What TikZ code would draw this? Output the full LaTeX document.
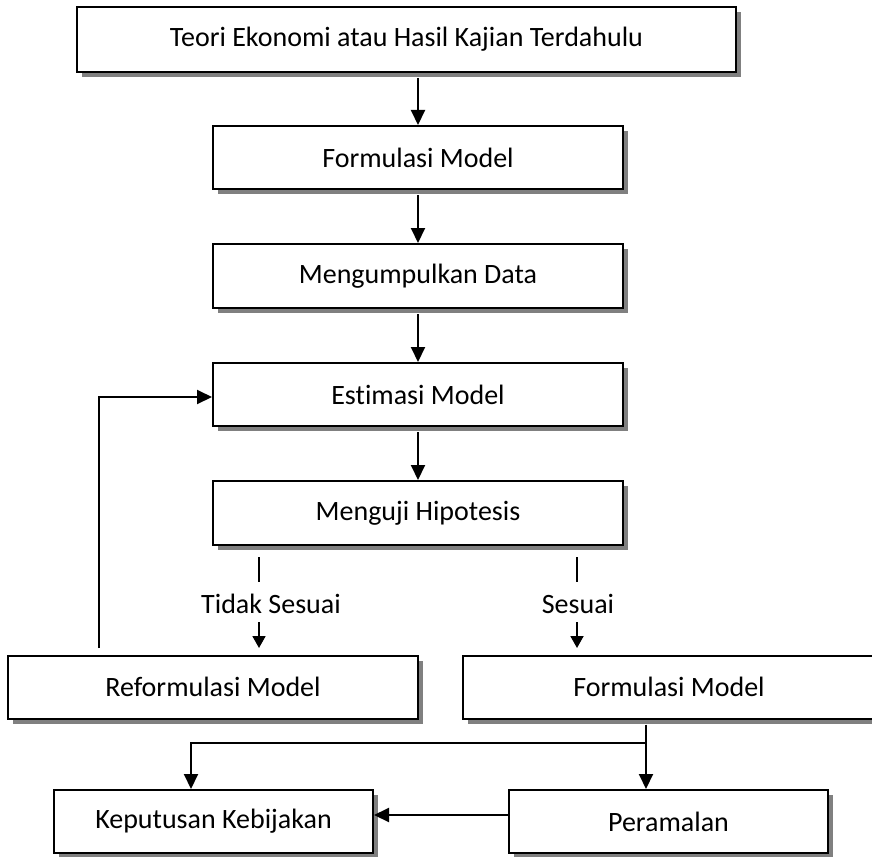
\documentclass[tikz,border=0pt]{standalone}
\usepackage{fontspec}
\setmainfont{Carlito}[Ligatures=NoCommon]
\usetikzlibrary{arrows.meta,shadows}

\tikzset{
  kotak/.style={draw,line width=2pt,fill=white,inner sep=0pt,
    minimum width=410pt,minimum height=63pt,
    font=\fontsize{28}{32}\selectfont,
    drop shadow={shadow xshift=5pt,shadow yshift=-5pt,fill=black!50,opacity=1}},
  ket/.style={inner sep=0pt,font=\fontsize{28}{32}\selectfont},
  panah/.style={line width=2pt,-{Triangle[length=15pt,width=14pt]}},
  panahkecil/.style={line width=1.8pt,-{Triangle[length=12pt,width=13pt]}},
  garis/.style={line width=1.8pt}
}

\begin{document}
\begin{tikzpicture}[x=1pt,y=-1pt]
            \useasboundingbox (0,0) rectangle (872,856);
            % kotak utama
            \node[kotak,minimum width=659pt,minimum height=65pt] (teori) at (406.5,39.5) {Teori Ekonomi atau Hasil Kajian Terdahulu};
            \node[kotak] (formulasi) at (418,157.5) {Formulasi Model};
            \node[kotak,minimum height=64pt] (data) at (418,276) {Mengumpulkan Data};
            \node[kotak] (estimasi) at (418,394.5) {Estimasi Model};
            \node[kotak,minimum height=64pt] (uji) at (418,513) {Menguji Hipotesis};
            \node[kotak] (reformulasi) at (213,687) {Reformulasi Model};
            \node[kotak,minimum width=412pt] (formulasi2) at (669,687) {Formulasi Model};
            \node[kotak,minimum width=319pt] (keputusan) at (213.5,821.5) {Keputusan Kebijakan};
            \node[kotak,minimum width=319pt] (ramal) at (668.5,821.5) {Peramalan};
            % label cabang
            \node[ket] (tidak) at (271,604) {Tidak Sesuai};
            \node[ket] (sesuai) at (578,604) {Sesuai};
            \coordinate (t1) at (259,557);
            \coordinate (s1) at (577,557);
            \coordinate (balik) at (99,648);
            \coordinate (cabang) at (646,743);
            % alur utama
            \draw[panah,shorten <=5pt] (formulasi.north |- teori.south) -- (formulasi.north);
            \draw[panah,shorten <=5pt] (formulasi.south) -- (data.north);
            \draw[panah,shorten <=5pt] (data.south) -- (estimasi.north);
            \draw[panah,shorten <=5pt] (estimasi.south) -- (uji.north);
            \draw[garis] (t1) -- ++(0,25);
            \draw[garis] (s1) -- ++(0,25);
            \draw[panahkecil] (t1 |- 0,622) -- (t1 |- 0,648);
            \draw[panahkecil] (s1 |- 0,622) -- (s1 |- 0,648);
            \draw[panah] (balik) |- ([yshift=-2.5pt]estimasi.west);
            % keluaran
            \draw[panah,shorten <=5pt] (cabang |- formulasi2.south) -- (cabang |- ramal.north);
            \draw[panah] (cabang) -| ([xshift=-22.5pt]keputusan.north);
            \draw[panah] ([yshift=6.5pt]ramal.west) -- ([yshift=6.5pt]keputusan.east);
        \end{tikzpicture}
\end{document}
